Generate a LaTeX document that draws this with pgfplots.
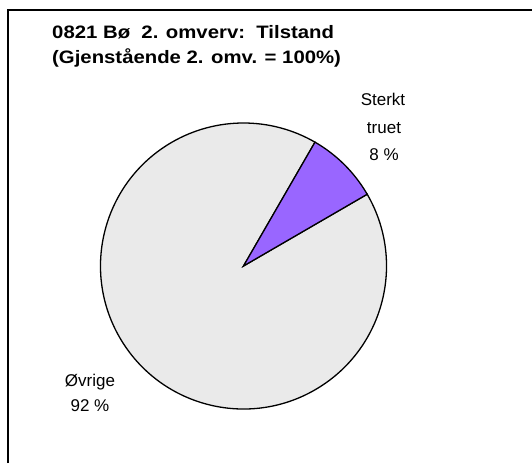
\documentclass[border=0pt]{standalone}
\usepackage{pgfplots}
\usepackage{pgfplotstable}
\pgfplotsset{compat=1.18}
\usepackage{fontspec}
\setmainfont{Liberation Sans}
\newfontfamily\titlefont{Liberation Sans}[FakeStretch=1.13]
\definecolor{slicepurple}{HTML}{9966FF}
\definecolor{slicegray}{HTML}{EAEAEA}

\pgfplotstableread{
label value
Sterkt 8.3
Ovrige 91.7
}\piedata

\begin{document}
\begin{tikzpicture}
\pgfplotstablegetelem{0}{value}\of\piedata
\pgfmathsetmacro{\va}{\pgfplotsretval}
\pgfplotstablegetelem{1}{value}\of\piedata
\pgfmathsetmacro{\vb}{\pgfplotsretval}
\pgfmathsetmacro{\aStart}{60}
\pgfmathsetmacro{\aMid}{60-3.6*\va}
\pgfmathsetmacro{\aEnd}{\aMid-3.6*\vb}
\begin{axis}[
  at={(0,0)}, anchor=origin,
  width=532pt, height=463pt, scale only axis,
  xmin=0, xmax=532, ymin=0, ymax=463,
  hide axis, clip=false,
]
% frame (only top and left edges visible in the reference crop)
\draw[black, line width=1.3pt] (axis cs:8,0) -- (axis cs:8,453) -- (axis cs:532,453);
% pie
\filldraw[fill=slicegray, draw=black, line width=1.3pt]
  (axis cs:243.5,197) -- ++(\aMid:143pt) arc[start angle=\aMid, end angle=\aEnd, radius=143pt] -- cycle;
\filldraw[fill=slicepurple, draw=black, line width=1.3pt]
  (axis cs:243.5,197) -- ++(\aStart:143pt) arc[start angle=\aStart, end angle=\aMid, radius=143pt] -- cycle;
% title
\node[anchor=base west, font=\titlefont\fontsize{18}{20}\selectfont\bfseries, inner sep=0pt] at (axis cs:52,424) {0821 Bø\ \ 2. omverv:\ \ Tilstand};
\node[anchor=base west, font=\titlefont\fontsize{18}{20}\selectfont\bfseries, inner sep=0pt] at (axis cs:52,399) {(Gjenstående 2. omv. = 100\%)};
% data labels
\node[anchor=base, font=\fontsize{17}{19}\selectfont, inner sep=0pt] at (axis cs:383,357) {Sterkt};
\node[anchor=base, font=\fontsize{17}{19}\selectfont, inner sep=0pt] at (axis cs:384,329) {truet};
\node[anchor=base, font=\fontsize{17}{19}\selectfont, inner sep=0pt] at (axis cs:384,302) {8 \%};
\node[anchor=base, font=\fontsize{17}{19}\selectfont, inner sep=0pt] at (axis cs:90,77) {Øvrige};
\node[anchor=base, font=\fontsize{17}{19}\selectfont, inner sep=0pt] at (axis cs:90,52) {92 \%};
\end{axis}
\pgfresetboundingbox
\path[use as bounding box] (0,0) rectangle (532pt,463pt);
\end{tikzpicture}
\end{document}
